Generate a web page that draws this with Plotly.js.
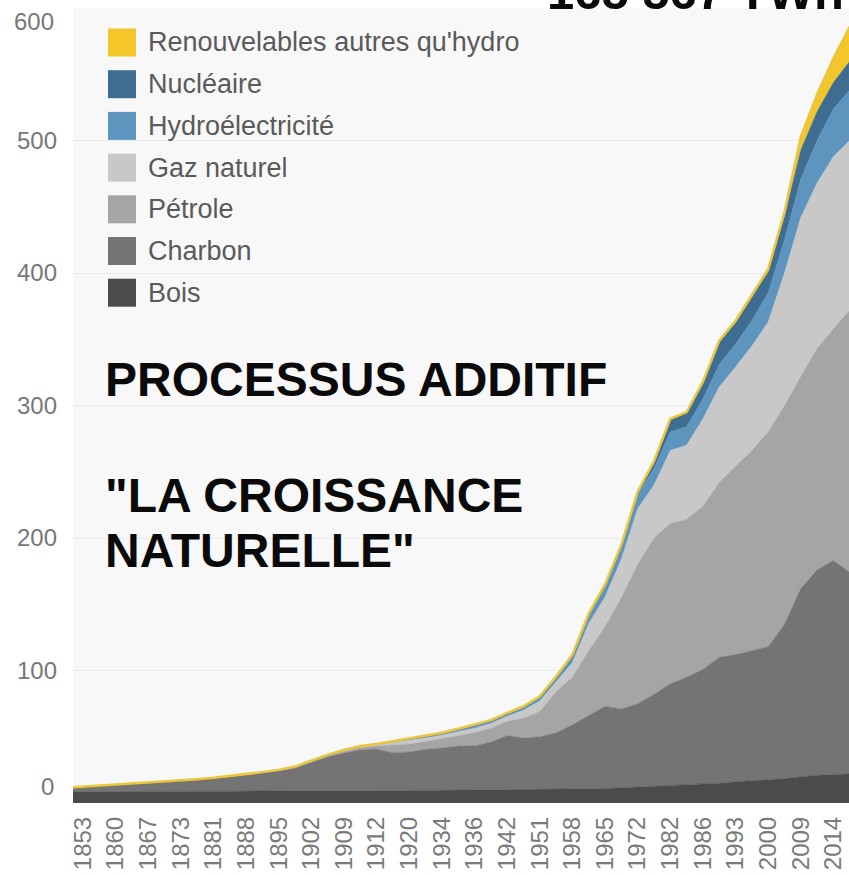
<!DOCTYPE html>
<html><head><meta charset="utf-8">
<script src="https://cdn.plot.ly/plotly-3.0.1.min.js"></script>
<style>html,body{margin:0;padding:0;background:#fff}#chart{width:849px;height:875px}</style>
</head><body><div id="chart"></div>
<script>
const years = ['1850','1853','1856','1860','1863','1867','1870','1873','1877','1881','1884','1888','1891','1895','1898','1902','1905','1909','1911','1912','1916','1920','1927','1934','1935','1936','1939','1942','1946','1951','1954','1958','1961','1965','1968','1972','1977','1982','1984','1986','1990','1993','1996','2000','2004','2009','2011','2014','2016'];
const tickYears = ['1853','1860','1867','1873','1881','1888','1895','1902','1909','1912','1920','1934','1936','1942','1951','1958','1965','1972','1982','1986','1993','2000','2009','2014'];

const bois = [8.5,8.6,8.6,8.7,8.7,8.8,8.8,8.8,8.9,8.9,8.9,9.0,9.0,9.0,9.1,9.1,9.2,9.2,9.3,9.3,9.3,9.4,9.4,9.5,9.5,9.5,9.6,9.7,9.8,10.0,10.2,10.5,10.7,11,11.5,12,12.5,13.5,14,14.5,15,16,16.5,17.5,18.5,20,21,21.5,22];
const charbon = [3.0,3.7,4.2,4.8,5.6,6.4,7.1,8.0,8.9,9.8,11.0,12.3,13.6,15.1,17.4,21.5,25.6,28.5,30.8,31.5,28.7,29.1,31.1,32.0,33.5,33.5,36.4,41.3,39.2,40.0,42.8,48.5,55.3,62,59.5,63,69.5,76.5,81,86.5,95,96,98.5,100.5,116.5,142,155,161.5,152];
const petrole = [0,0,0,0,0,0,0.1,0.2,0.2,0.3,0.3,0.4,0.5,0.6,0.7,0.8,1.0,1.4,1.8,2.2,5.5,6.0,6.0,7.0,8.0,10.0,10.5,10.5,15.0,19.0,31,36,49,60,84,105,118,121,119,123,132,142,151,162,165,160,167,175,198];
const gaz = [0,0,0,0,0,0,0,0,0,0,0.1,0.1,0.2,0.3,0.3,0.4,0.5,0.6,0.7,0.9,2.0,2.5,2.5,2.7,3.0,3.5,3.5,4.0,6.0,8.0,7.5,11,20.5,22.5,29,42,40,55,56,66,72,75,79,83,100,120,125,130,128];
const hydro = [0,0,0,0,0,0,0,0,0,0,0,0,0,0,0,0.2,0.2,0.3,0.4,0.6,1.0,1.5,1.5,1.8,2.0,2.5,2.5,2.5,3.0,3.5,4.0,5.5,6.5,8,9.5,11,12.5,14,14,15,17,17.5,19,22,25,29,32,36,38];
const nucleaire = [0,0,0,0,0,0,0,0,0,0,0,0,0,0,0,0,0,0,0,0,0,0,0,0,0,0,0,0,0,0,0,0.2,0.5,0.8,1,1.5,5,9.5,10.5,12,16.5,16,18,16,18,22,22,20,22];
const renouvelables = [0,0,0,0,0,0,0,0,0,0,0,0,0,0,0,0,0,0,0,0,0,0,0,0,0,0,0,0,0,0,0,0.3,0.5,0.7,0.5,0.5,0.5,0.5,0.5,1,1.5,1.5,2,2,3,10,13,18,26];

const seriesNames = ['Bois','Charbon','Pétrole','Gaz naturel','Hydroélectricité','Nucléaire',"Renouvelables autres qu'hydro"];
const seriesValues = [bois, charbon, petrole, gaz, hydro, nucleaire, renouvelables];
const seriesColors = ['#4b4b4b','#747474','#a5a5a5','#c8c8c8','#5e95bf','#3f6d92','#f5c62a'];

const yTicks = [100,200,300,400,500];
const yEdgeLabels = [{text:'0', v:0}, {text:'600', v:600}];
const headline = '165 567 TWh';
const bigLines = ['PROCESSUS ADDITIF', '"LA CROISSANCE', 'NATURELLE"'];

const FONT = 'Liberation Sans, Arial, sans-serif';
const W = 849, H = 875, ML = 73, MR = 0, MT = 8, MB = 72;
const PW = W - ML - MR, PH = H - MT - MB;
const px2paperX = px => (px - ML) / PW;
const px2paperY = py => (H - MB - py) / PH;

const traces = seriesNames.map((name, i) => ({
  type: 'scatter', mode: 'lines', name: name,
  x: years, y: seriesValues[i],
  stackgroup: 'one',
  fillcolor: seriesColors[i],
  line: i === seriesNames.length - 1
    ? {color: '#ebc63a', width: 2.5}
    : {color: seriesColors[i], width: 0.5},
  hoverinfo: 'x+y+name',
  showlegend: false
}));

const shapes = [];
const annotations = [];
// manual legend (top to bottom: reverse stacking order)
const legendOrder = seriesNames.map((n, i) => i).reverse();
legendOrder.forEach((idx, k) => {
  const cy = 42.5 + k * 41.7;
  shapes.push({type: 'rect', xref: 'paper', yref: 'paper', layer: 'above',
    x0: px2paperX(108), x1: px2paperX(136), y0: px2paperY(cy + 14), y1: px2paperY(cy - 14),
    fillcolor: seriesColors[idx], line: {width: 0}});
  annotations.push({xref: 'paper', yref: 'paper', x: px2paperX(146), y: px2paperY(cy),
    xanchor: 'left', yanchor: 'middle', showarrow: false, text: seriesNames[idx],
    font: {family: FONT, size: 27, color: '#5a5a5a'}});
});
// y edge labels
yEdgeLabels.forEach(e => {
  const py = e.v === 0 ? 786 : 22;
  annotations.push({xref: 'paper', yref: 'paper', x: 0, xshift: -17, y: px2paperY(py),
    xanchor: 'right', yanchor: 'middle', showarrow: false, text: e.text,
    font: {family: FONT, size: 24, color: '#777'}});
});
// big texts
const bigY = [379, 495, 550];
bigLines.forEach((t, k) => {
  annotations.push({xref: 'paper', yref: 'paper', x: px2paperX(103), y: px2paperY(bigY[k]),
    xanchor: 'left', yanchor: 'middle', showarrow: false, text: t,
    font: {family: FONT, size: 48, color: '#0a0a0a', weight: 'bold'}});
});
annotations.push({xref: 'paper', yref: 'paper', x: px2paperX(695), y: px2paperY(-8),
  xanchor: 'center', yanchor: 'middle', showarrow: false, text: headline,
  font: {family: FONT, size: 49, color: '#0a0a0a', weight: 'bold'}});

const layout = {
  width: W, height: H,
  margin: {l: ML, r: MR, t: MT, b: MB, pad: 0},
  paper_bgcolor: '#ffffff', plot_bgcolor: '#f8f8f8',
  showlegend: false,
  xaxis: {type: 'category', categoryorder: 'array', categoryarray: years,
    range: [0.39, 47.95], tickvals: tickYears, ticktext: tickYears, tickangle: -90,
    tickfont: {family: FONT, size: 24, color: '#7a7a7a'}, ticks: '', ticklabelstandoff: 8,
    showgrid: false, zeroline: false, showline: false, fixedrange: true},
  yaxis: {range: [0, 600], tickvals: yTicks, ticktext: yTicks.map(String),
    tickfont: {family: FONT, size: 24, color: '#777'}, ticks: '', ticklabelstandoff: 15,
    gridcolor: '#ebebeb', gridwidth: 1, zeroline: false, showline: false, fixedrange: true},
  shapes: shapes, annotations: annotations
};
Plotly.newPlot('chart', traces, layout, {displayModeBar: false, staticPlot: true});
</script></body></html>
